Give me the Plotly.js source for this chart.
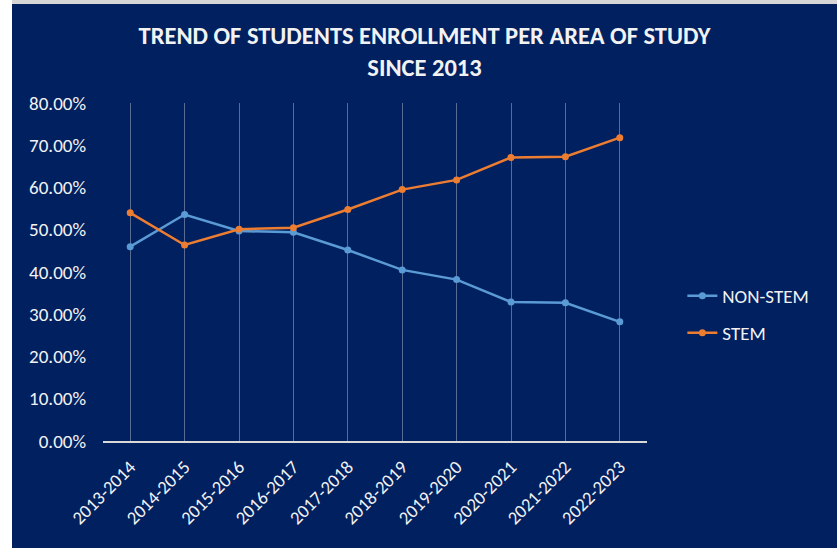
<!DOCTYPE html>
<html>
<head>
<meta charset="utf-8">
<script src="https://cdn.plot.ly/plotly-3.0.1.min.js"></script>
<style>
html,body{margin:0;padding:0;background:#ffffff;width:837px;height:548px;overflow:hidden;}
#top{position:absolute;left:12px;top:0;width:825px;height:4px;background:#d6d6d6;}
#chart{position:absolute;left:12px;top:4px;width:825px;height:544px;}
</style>
</head>
<body>
<div id="top"></div>
<div id="chart"></div>
<script>
const years = ["2013-2014","2014-2015","2015-2016","2016-2017","2017-2018","2018-2019","2019-2020","2020-2021","2021-2022","2022-2023"];
const nonStem = [46.0, 53.6, 49.7, 49.4, 45.2, 40.5, 38.2, 32.9, 32.7, 28.2];
const stem    = [54.0, 46.4, 50.1, 50.5, 54.8, 59.5, 61.8, 67.1, 67.3, 71.8];
const yTicks = [0,10,20,30,40,50,60,70,80];
const yTickText = yTicks.map(v => v.toFixed(2) + "%");

const font = "Carlito, 'Liberation Sans', Arial, sans-serif";
const white = "#f2f2f2";

const traces = [
  {x: years, y: nonStem, name: "NON-STEM", type: "scatter", mode: "lines+markers",
   line: {color: "#5b9bd5", width: 2.5}, marker: {color: "#5b9bd5", size: 7}, legend: "legend"},
  {x: years, y: stem, name: "STEM", type: "scatter", mode: "lines+markers",
   line: {color: "#ed7d31", width: 2.5}, marker: {color: "#ed7d31", size: 7}, legend: "legend2"}
];

const layout = {
  width: 825, height: 544,
  paper_bgcolor: "#002060", plot_bgcolor: "#002060",
  margin: {l: 91, r: 190, t: 99, b: 107},
  font: {family: font, color: white, size: 18},
  title: {
    text: "<b>TREND OF STUDENTS ENROLLMENT PER AREA OF STUDY<br>SINCE 2013</b>",
    x: 0.5, xref: "container", xanchor: "center",
    y: 0.927, yref: "container", yanchor: "top",
    font: {family: font, size: 24.5, color: white}
  },
  xaxis: {
    type: "category", range: [-0.5, 9.5],
    showgrid: true, gridcolor: "rgba(200,200,210,0.45)", gridwidth: 1,
    showline: true, linecolor: "#d9d9d9", linewidth: 2,
    ticks: "", tickangle: -45, ticklabelstandoff: 6, tickfont: {size: 18.5, color: white},
    zeroline: false
  },
  yaxis: {
    range: [0, 80], tickvals: yTicks, ticktext: yTickText,
    showgrid: false, zeroline: false, showline: false,
    ticks: "", ticklabelstandoff: 16, tickfont: {size: 19, color: white}
  },
  showlegend: true,
  legend: {x: 1.065, xanchor: "left", y: 0.429, yanchor: "middle",
    bgcolor: "rgba(0,0,0,0)", font: {size: 19, color: white}},
  legend2: {x: 1.065, xanchor: "left", y: 0.32, yanchor: "middle",
    bgcolor: "rgba(0,0,0,0)", font: {size: 19, color: white}}
};

Plotly.newPlot("chart", traces, layout, {displayModeBar: false, staticPlot: true});
</script>
</body>
</html>
